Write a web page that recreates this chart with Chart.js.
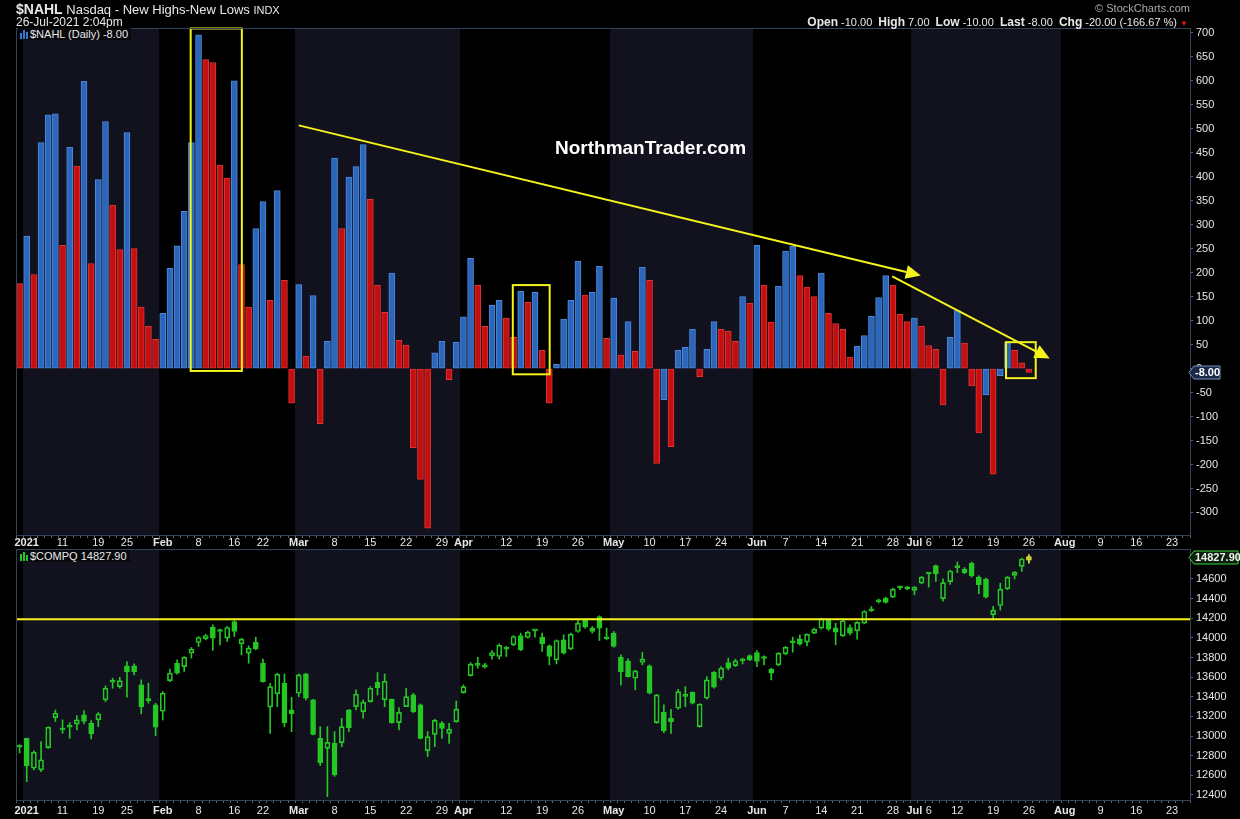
<!DOCTYPE html>
<html>
<head>
<meta charset="utf-8">
<title>$NAHL Nasdaq - New Highs-New Lows</title>
<script src="https://cdn.jsdelivr.net/npm/chart.js@4.4.0/dist/chart.umd.min.js"></script>
<style>
  html, body { margin:0; padding:0; background:#000; }
  body { width:1240px; height:819px; position:relative; overflow:hidden; font-family:"Liberation Sans", Arial, sans-serif; color:#e8e8e8; }
  canvas { position:absolute; left:0; }
  #nahl { top:0; }
  #compq { top:539px; }
  .txt { position:absolute; white-space:nowrap; line-height:1; }
  .tag { position:absolute; background:#08080d; font-size:11px; line-height:12px; padding:0 3px 0 2px; white-space:nowrap; }
  .ico { display:inline-block; width:2px; margin-right:1px; vertical-align:-1px; }
</style>
</head>
<body>
<canvas id="nahl" width="1240" height="549"></canvas>
<canvas id="compq" width="1240" height="280"></canvas>

<div class="txt" style="left:16px;top:2px;font-size:13px;"><b style="font-size:14px;">$NAHL</b> Nasdaq - New Highs-New Lows <span style="font-size:11px;">INDX</span></div>
<div class="txt" style="left:16px;top:16px;font-size:12px;">26-Jul-2021 2:04pm</div>
<div class="txt" style="right:50px;top:3px;font-size:11px;color:#a9a9a9;">&copy; StockCharts.com</div>
<div class="txt" style="right:52px;top:16px;font-size:11px;"><b style="font-size:12px;">Open</b> -10.00&nbsp; <b style="font-size:12px;">High</b> 7.00&nbsp; <b style="font-size:12px;">Low</b> -10.00&nbsp; <b style="font-size:12px;">Last</b> -8.00&nbsp; <b style="font-size:12px;">Chg</b> -20.00 (-166.67 %) <span style="color:#e01818;font-size:8px;">&#9660;</span></div>
<div class="tag" style="left:18px;top:28px;"><span class="ico" style="height:6px;background:#3a78d0"></span><span class="ico" style="height:9px;background:#3a78d0"></span><span class="ico" style="height:7px;background:#3a78d0;margin-right:2px"></span>$NAHL (Daily) -8.00</div>
<div class="tag" style="left:18px;top:550px;"><span class="ico" style="height:7px;background:#25c725"></span><span class="ico" style="height:9px;background:#25c725"></span><span class="ico" style="height:6px;background:#25c725;margin-right:2px"></span>$COMPQ 14827.90</div>
<div class="txt" style="left:555px;top:138px;font-size:19px;font-weight:bold;color:#fff;">NorthmanTrader.com</div>

<script>
// trading days shown on the chart (plus empty future slots to late August)
const holidays = ['2021-01-01', '2021-01-18', '2021-02-15', '2021-04-02', '2021-05-31', '2021-07-05'];
const days = [];
for (let t = Date.UTC(2020, 11, 31); t <= Date.UTC(2021, 7, 25); t += 864e5) {
  const d = new Date(t);
  const wd = d.getUTCDay();
  const s = d.toISOString().slice(0, 10);
  if (wd > 0 && wd < 6 && !holidays.includes(s)) days.push(s);
}

// x tick labels
const tickDates = ['2021-01-04', '2021-01-11', '2021-01-19', '2021-01-25', '2021-02-01', '2021-02-08', '2021-02-16', '2021-02-22',
  '2021-03-01', '2021-03-08', '2021-03-15', '2021-03-22', '2021-03-29', '2021-04-01', '2021-04-12', '2021-04-19', '2021-04-26',
  '2021-05-03', '2021-05-10', '2021-05-17', '2021-05-24', '2021-06-01', '2021-06-07', '2021-06-14', '2021-06-21', '2021-06-28',
  '2021-07-01', '2021-07-06', '2021-07-12', '2021-07-19', '2021-07-26', '2021-08-02', '2021-08-09', '2021-08-16', '2021-08-23'];
const tickText = ['2021', '11', '19', '25', 'Feb', '8', '16', '22',
  'Mar', '8', '15', '22', '29', 'Apr', '12', '19', '26',
  'May', '10', '17', '24', 'Jun', '7', '14', '21', '28',
  'Jul', '6', '12', '19', '26', 'Aug', '9', '16', '23'];
const boldTicks = ['2021', 'Feb', 'Mar', 'Apr', 'May', 'Jun', 'Jul', 'Aug'];

// $NAHL daily values, 31-Dec-2020 .. 26-Jul-2021
const nahl = [177,
  276, 196, 471, 529, 531, 257, 461, 422, 599, 219, 394, 515, 341, 248, 492, 250, 128, 88, 61,
  115, 209, 256, 328, 471, 696, 644, 638, 424, 397, 600, 217, 128, 292, 348, 142, 371, 184, -72,
  175, 26, 152, -115, 57, 439, 292, 399, 421, 467, 353, 174, 117, 199, 59, 49, -165, -231, -333, 33, 57, -23, 55,
  108, 230, 174, 88, 132, 142, 105, 65, 161, 138, 159, 38, -72, 9, 103, 142, 224, 153, 159, 213, 63,
  147, 28, 98, 36, 211, 184, -198, -65, -163, 38, 44, 82, -17, 40, 98, 82, 78, 57, 150, 136,
  257, 174, 97, 172, 245, 255, 194, 170, 150, 199, 115, 94, 82, 24, 47, 69, 109, 148, 194, 174, 113, 98,
  105, 88, 48, 40, -76, 65, 121, 53, -36, -134, -55, -220, -15, 55, 38, 12, -8];

// $COMPQ daily candles, same days
const compqOpen = [12905,
  12977, 12672, 12655, 12883, 13188, 13075, 13090, 13121, 13216, 13131, 13165, 13369, 13548, 13504, 13715, 13715, 13521, 13370, 13317,
  13253, 13565, 13742, 13708, 13844, 13953, 13990, 14109, 14070, 13997, 14167, 13939, 13844, 13956, 13742, 13294, 13429, 13538, 13267,
  13436, 13633, 13368, 12977, 12875, 12926, 12933, 13266, 13300, 13249, 13351, 13548, 13368, 13375, 13137, 13300, 13419, 13317, 12851, 13018, 13130, 13028, 13147,
  13443, 13616, 13720, 13701, 13817, 13810, 13890, 13929, 14024, 14004, 14075, 14008, 13918, 13776, 13980, 13888, 14065, 14184, 14099, 14218, 13995,
  14048, 13803, 13766, 13589, 13749, 13715, 13137, 13242, 13181, 13283, 13405, 13446, 13096, 13385, 13650, 13589, 13749, 13718, 13765, 13820,
  13851, 13790, 13681, 13725, 13837, 13950, 13990, 13956, 14048, 14099, 14184, 14102, 14021, 14106, 14072, 14150, 14276, 14368, 14405, 14415, 14510, 14503,
  14483, 14558, 14650, 14735, 14399, 14572, 14715, 14698, 14759, 14619, 14599, 14236, 14330, 14500, 14636, 14728, 14790];
const compqHigh = [12912,
  12980, 12850, 12943, 13095, 13266, 13164, 13137, 13209, 13259, 13158, 13239, 13511, 13589, 13599, 13759, 13735, 13572, 13538, 13334,
  13453, 13681, 13776, 13810, 13902, 14014, 14038, 14133, 14089, 14116, 14194, 13997, 13919, 14007, 13783, 13538, 13640, 13633, 13395,
  13633, 13640, 13375, 13096, 13096, 13045, 13181, 13270, 13470, 13368, 13504, 13646, 13633, 13378, 13290, 13487, 13436, 13327, 13045, 13171, 13147, 13130, 13357,
  13521, 13749, 13803, 13742, 13871, 13939, 13912, 14024, 14048, 14068, 14078, 14048, 13929, 13980, 14031, 14048, 14177, 14194, 14116, 14225, 14099,
  14065, 13827, 13786, 13670, 13854, 13725, 13425, 13317, 13273, 13477, 13504, 13450, 13330, 13606, 13657, 13708, 13793, 13783, 13793, 13827,
  13871, 13817, 13691, 13851, 13912, 14007, 14031, 14040, 14099, 14201, 14191, 14150, 14194, 14133, 14167, 14279, 14320, 14395, 14415, 14507, 14524, 14524,
  14524, 14626, 14660, 14740, 14602, 14690, 14772, 14715, 14772, 14633, 14609, 14320, 14558, 14626, 14677, 14813, 14848];
const compqLow = [12827,
  12536, 12655, 12638, 12875, 13148, 13028, 12977, 13062, 13124, 12970, 13096, 13351, 13487, 13487, 13395, 13623, 13226, 13334, 13005,
  13164, 13555, 13630, 13657, 13793, 13912, 13980, 13871, 13929, 13963, 14014, 13827, 13742, 13878, 13548, 13028, 13300, 13096, 13045,
  13402, 13368, 13011, 12700, 12383, 12590, 12892, 13045, 13266, 13181, 13344, 13419, 13300, 13130, 13062, 13300, 13239, 12970, 12790, 12892, 12977, 12926, 13140,
  13436, 13610, 13691, 13691, 13783, 13783, 13810, 13919, 13868, 13997, 14007, 13861, 13725, 13735, 13834, 13878, 14055, 14099, 14048, 13973, 13980,
  13905, 13521, 13600, 13470, 13725, 13430, 13130, 13035, 13028, 13273, 13300, 13327, 13090, 13375, 13487, 13572, 13674, 13708, 13735, 13769,
  13708, 13725, 13572, 13715, 13827, 13854, 13925, 13919, 14041, 14089, 14075, 13929, 14014, 14031, 13987, 14143, 14269, 14354, 14354, 14410, 14490, 14490,
  14439, 14551, 14517, 14575, 14375, 14545, 14664, 14653, 14619, 14450, 14405, 14184, 14283, 14490, 14599, 14677, 14760];
const compqClose = [12888,
  12699, 12835, 12757, 13090, 13232, 13062, 13100, 13165, 13148, 13022, 13226, 13487, 13555, 13565, 13657, 13657, 13300, 13361, 13090,
  13436, 13640, 13640, 13803, 13885, 14004, 14024, 13997, 14065, 14106, 14065, 13987, 13895, 13888, 13555, 13504, 13630, 13137, 13226,
  13623, 13385, 13018, 12730, 12936, 12604, 13096, 13086, 13426, 13344, 13487, 13494, 13558, 13137, 13242, 13402, 13249, 12977, 12994, 13160, 13079, 13069, 13273,
  13504, 13732, 13725, 13725, 13851, 13925, 13885, 14014, 13878, 14058, 14072, 13939, 13810, 13973, 13844, 14038, 14150, 14109, 14065, 14099, 13990,
  13912, 13657, 13606, 13664, 13783, 13436, 13419, 13055, 13147, 13453, 13409, 13334, 13324, 13572, 13497, 13691, 13691, 13766, 13769, 13776,
  13759, 13793, 13640, 13844, 13905, 13956, 13936, 14038, 14089, 14194, 14089, 14058, 14174, 14048, 14157, 14269, 14279, 14371, 14361, 14497, 14514, 14500,
  14517, 14619, 14653, 14650, 14562, 14681, 14719, 14664, 14630, 14541, 14415, 14283, 14497, 14619, 14667, 14803, 14828];
const lastClose = 14827.90;
const supportLevel = 14190;

// yellow annotations, in (day index, value)
const trendLines = [[39, 507, 125.9, 194], [121.9, 192, 143.9, 21]];
const boxes = [[23.9, 31.05, 709, -5], [68.9, 74.05, 174, -12], [137.8, 141.95, 55, -20]];

const BLUE = '#2c66bb', BLUE_EDGE = '#4d88d8', RED = '#c30f0f', RED_EDGE = '#e03535';
const GREEN = '#25c725', BAND = '#12121f', FRAME = '#56657c', TXT = '#e6e6e6';

Chart.defaults.font.family = '"Liberation Sans", Arial, sans-serif';
Chart.defaults.font.size = 11;
Chart.defaults.color = TXT;

const labelFor = days.map(d => { const k = tickDates.indexOf(d); return k < 0 ? '' : tickText[k]; });
const pad = arr => days.map((d, i) => (i < arr.length ? arr[i] : null));

// alternating month shading + frame
const bands = {
  id: 'bands',
  beforeDraw(chart) {
    const { ctx, chartArea: a, scales: { x } } = chart;
    const half = (x.getPixelForValue(1) - x.getPixelForValue(0)) / 2;
    ctx.save();
    ctx.fillStyle = '#000';
    ctx.fillRect(a.left, a.top, a.right - a.left, a.bottom - a.top);
    ctx.fillStyle = BAND;
    let start = -1;
    days.forEach((d, i) => {
      const shaded = d.startsWith('2021') && (parseInt(d.slice(5, 7), 10) % 2 === 1);
      if (shaded && start < 0) start = i;
      if ((!shaded || i === days.length - 1) && start >= 0) {
        const end = shaded ? i : i - 1;
        const x0 = Math.round(x.getPixelForValue(start) - half);
        const x1 = Math.round(x.getPixelForValue(end) + half);
        ctx.fillRect(x0, a.top, x1 - x0, a.bottom - a.top);
        start = -1;
      }
    });
    ctx.restore();
  },
  afterDraw(chart) {
    const { ctx, chartArea: a } = chart;
    ctx.save();
    ctx.strokeStyle = '#34425a';
    ctx.lineWidth = 1;
    ctx.strokeRect(a.left + 0.5, a.top + 0.5, a.right - a.left, a.bottom - a.top);
    ctx.restore();
  }
};

function valueTag(ctx, yy, text, fill, stroke, color, w) {
  ctx.save();
  ctx.beginPath();
  ctx.moveTo(1189, yy);
  ctx.lineTo(1194, yy - 6.5);
  ctx.lineTo(1194 + w, yy - 6.5);
  ctx.lineTo(1194 + w, yy + 6.5);
  ctx.lineTo(1194, yy + 6.5);
  ctx.closePath();
  ctx.fillStyle = fill;
  ctx.fill();
  ctx.strokeStyle = stroke;
  ctx.lineWidth = 1;
  ctx.stroke();
  ctx.fillStyle = color;
  ctx.font = 'bold 11px "Liberation Sans", Arial, sans-serif';
  ctx.textBaseline = 'middle';
  ctx.fillText(text, 1195, yy + 0.5);
  ctx.restore();
}

const annotate = {
  id: 'annotate',
  afterDatasetsDraw(chart) {
    const { ctx, scales: { x, y } } = chart;
    ctx.save();
    ctx.strokeStyle = ctx.fillStyle = '#f4f41c';
    ctx.lineWidth = 2;
    trendLines.forEach(([i0, v0, i1, v1]) => {
      const x0 = x.getPixelForValue(i0), y0 = y.getPixelForValue(v0);
      const x1 = x.getPixelForValue(i1), y1 = y.getPixelForValue(v1);
      const a = Math.atan2(y1 - y0, x1 - x0);
      const hx = x1 - 15 * Math.cos(a), hy = y1 - 15 * Math.sin(a);
      ctx.beginPath(); ctx.moveTo(x0, y0); ctx.lineTo(hx, hy); ctx.stroke();
      ctx.beginPath();
      ctx.moveTo(x1, y1);
      ctx.lineTo(hx + 7 * Math.sin(a), hy - 7 * Math.cos(a));
      ctx.lineTo(hx - 7 * Math.sin(a), hy + 7 * Math.cos(a));
      ctx.closePath(); ctx.fill();
    });
    boxes.forEach(([i0, i1, vt, vb]) => {
      const x0 = x.getPixelForValue(i0), x1 = x.getPixelForValue(i1);
      const y0 = y.getPixelForValue(vt), y1 = y.getPixelForValue(vb);
      ctx.strokeRect(x0, y0, x1 - x0, y1 - y0);
    });
    ctx.restore();
  },
  afterDraw(chart) {
    valueTag(chart.ctx, Math.round(chart.scales.y.getPixelForValue(nahl[nahl.length - 1])) + 0.5, '-8.00', '#1a2948', '#7b92bc', '#ffffff', 26);
  }
};

const supportLine = {
  id: 'supportLine',
  afterDatasetsDraw(chart) {
    const { ctx, chartArea: a, scales: { y } } = chart;
    const yy = y.getPixelForValue(supportLevel);
    ctx.save();
    ctx.strokeStyle = '#f4f41c';
    ctx.lineWidth = 2;
    ctx.beginPath(); ctx.moveTo(a.left, yy); ctx.lineTo(a.right, yy); ctx.stroke();
    ctx.restore();
  },
  afterDraw(chart) {
    valueTag(chart.ctx, Math.round(chart.scales.y.getPixelForValue(lastClose)) + 0.5, '14827.90', '#0b200b', '#3ccf3c', '#f0f0f0', 44);
  }
};

function timeAxis(height, padding) {
  return {
    ticks: {
      autoSkip: false, maxRotation: 0, minRotation: 0, padding, color: TXT,
      callback: (v, i) => labelFor[i],
      font: c => ({ size: 11, weight: boldTicks.includes(labelFor[c.index]) ? 'bold' : 'normal' })
    },
    grid: { drawOnChartArea: false, tickLength: 3, color: FRAME },
    border: { color: FRAME },
    afterFit: s => { s.height = height; }
  };
}

function valueAxis(min, max, step) {
  return {
    position: 'right', min, max,
    ticks: { stepSize: step, includeBounds: false, padding: 3, color: TXT, callback: v => String(v) },
    grid: { drawOnChartArea: false, tickLength: 3, color: FRAME },
    border: { color: FRAME },
    afterFit: s => { s.width = 50; }
  };
}

// top panel: $NAHL bars, blue when up on the day, red when down
const nahlFill = nahl.map((v, i) => (i > 0 && v >= nahl[i - 1] ? BLUE : RED));
const nahlEdge = nahl.map((v, i) => (i > 0 && v >= nahl[i - 1] ? BLUE_EDGE : RED_EDGE));

new Chart(document.getElementById('nahl'), {
  type: 'bar',
  data: {
    labels: days,
    datasets: [{
      data: pad(nahl), backgroundColor: nahlFill, borderColor: nahlEdge,
      borderWidth: 1, borderSkipped: false, barThickness: 6
    }]
  },
  options: {
    responsive: false, animation: false,
    layout: { padding: { left: 16, top: 28, right: 0, bottom: 0 } },
    plugins: { legend: { display: false }, tooltip: { enabled: false } },
    scales: { x: timeAxis(14, -2), y: valueAxis(-347, 710, 50) }
  },
  plugins: [bands, annotate]
});

// bottom panel: $COMPQ candles (hollow = up on the day, filled = down)
const n = compqClose.length;
const bodyFill = compqClose.map((c, i) => (i === n - 1 ? '#c8c832' : c < compqOpen[i] ? GREEN : 'rgba(0,0,0,0)'));
const bodyEdge = compqClose.map((c, i) => (i === n - 1 ? '#e2e23c' : GREEN));
const wickColor = compqClose.map((c, i) => (i === n - 1 ? '#e2e23c' : GREEN));

new Chart(document.getElementById('compq'), {
  type: 'bar',
  data: {
    labels: days,
    datasets: [
      { data: pad(compqHigh.map((h, i) => [Math.max(compqOpen[i], compqClose[i]), h])), backgroundColor: wickColor, barThickness: 1, grouped: false },
      { data: pad(compqLow.map((l, i) => [l, Math.min(compqOpen[i], compqClose[i])])), backgroundColor: wickColor, barThickness: 1, grouped: false },
      {
        data: pad(compqOpen.map((o, i) => [o, compqClose[i]])), backgroundColor: bodyFill, borderColor: bodyEdge,
        borderWidth: 1, borderSkipped: false, minBarLength: 2, grouped: false,
        barThickness: ctx => (ctx.dataIndex === n - 1 ? 8 : 5)
      }
    ]
  },
  options: {
    responsive: false, animation: false,
    layout: { padding: { left: 16, top: 10, right: 0, bottom: 0 } },
    plugins: { legend: { display: false }, tooltip: { enabled: false } },
    scales: { x: timeAxis(19, 1), y: valueAxis(12349, 14905, 200) }
  },
  plugins: [bands, supportLine]
});
</script>
</body>
</html>
